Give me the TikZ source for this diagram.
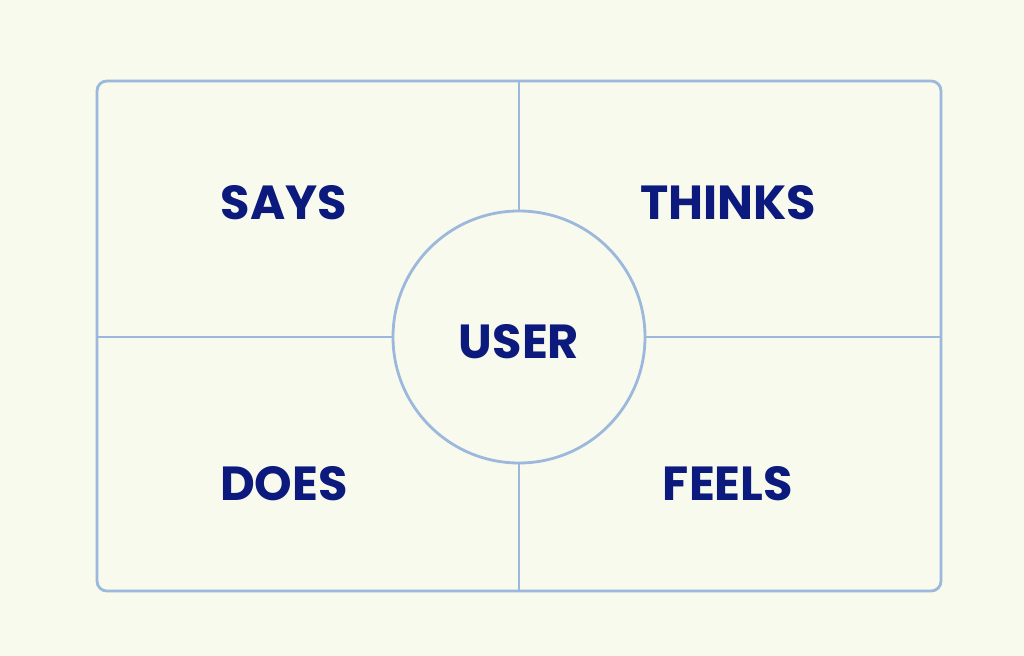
\documentclass[tikz,border=0pt]{standalone}
\usepackage{fontspec}
\setmainfont{Poppins}
\usepackage{tikz}
\usetikzlibrary{positioning}
\definecolor{bgcream}{HTML}{F8FAEE}
\definecolor{gridblue}{HTML}{9DB8DD}
\definecolor{labelnavy}{HTML}{0B1A7C}

\begin{document}
\begin{tikzpicture}[x=0.025cm,y=-0.025cm,
	quadlabel/.style={text=labelnavy,font=\fontsize{34}{36}\selectfont\bfseries}]
	% Background %
	\fill [bgcream] (0,0) rectangle (1024,656);
	\useasboundingbox (0,0) rectangle (1024,656);
	% Outer Box %
	\draw [gridblue,line width=2pt,rounded corners=7pt] (97,81) rectangle (941,591);
	% Centre Circle %
	\node (user) [circle,draw=gridblue,line width=2pt,minimum size=252*0.025cm,inner sep=0pt] at (519,337) {};
	% Divider Lines %
	\coordinate (topmid) at (519,81);
	\coordinate (bottommid) at (519,591);
	\coordinate (leftmid) at (97,337);
	\coordinate (rightmid) at (941,337);
	\draw [gridblue,line width=2pt] (topmid) -- (user.north);
	\draw [gridblue,line width=2pt] (user.south) -- (bottommid);
	\draw [gridblue,line width=2pt] (leftmid) -- (user.west);
	\draw [gridblue,line width=2pt] (user.east) -- (rightmid);
	% Labels %
	\node (userlabel) [quadlabel] at (519,342) {USER};
	\node (says) [quadlabel] at (284,203) {SAYS};
	\node (thinks) [quadlabel] at (728,203) {THINKS};
	\node (does) [quadlabel] at (284,484) {DOES};
	\node (feels) [quadlabel] at (728,484) {FEELS};
\end{tikzpicture}
\end{document}
